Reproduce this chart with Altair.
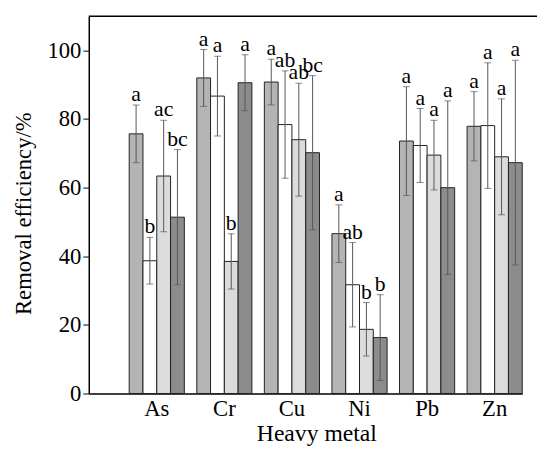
import altair as alt
import pandas as pd

metals = ["As", "Cr", "Cu", "Ni", "Pb", "Zn"]
series = ["T1", "T2", "T3", "T4"]

means = {
    "T1": [75.7, 92.0, 90.8, 46.6, 73.6, 77.9],
    "T2": [38.7, 86.7, 78.4, 31.7, 72.3, 78.1],
    "T3": [63.4, 38.5, 74.0, 18.7, 69.5, 69.0],
    "T4": [51.4, 90.6, 70.2, 16.3, 60.0, 67.3],
}
sds = {
    "T1": [8.4, 8.3, 6.65, 8.4, 15.85, 10.1],
    "T2": [6.8, 11.6, 15.65, 12.3, 10.8, 18.3],
    "T3": [16.25, 8.05, 16.45, 7.8, 10.15, 16.9],
    "T4": [19.7, 8.15, 22.45, 12.5, 25.3, 29.85],
}
letters = {
    "T1": ["a", "a", "a", "a", "a", "a"],
    "T2": ["b", "a", "ab", "ab", "a", "a"],
    "T3": ["ac", "b", "ab", "b", "a", "a"],
    "T4": ["bc", "a", "bc", "b", "a", "a"],
}
fills = ["#b4b4b4", "#ffffff", "#dcdcdc", "#8c8c8c"]

rows = []
for s in series:
    for i, m in enumerate(metals):
        v = means[s][i]
        e = sds[s][i]
        rows.append({"metal": m, "series": s, "value": v,
                     "lo": v - e, "hi": v + e, "letter": letters[s][i]})
df = pd.DataFrame(rows)

FONT = "Liberation Serif"

x = alt.X("metal:N", sort=metals, title="Heavy metal",
          scale=alt.Scale(paddingInner=0.184, paddingOuter=0.299, align=1),
          axis=alt.Axis(labelAngle=0, ticks=False, labelFontSize=23, titleFontSize=24,
                        labelFont=FONT, titleFont=FONT,
                        labelBaseline="alphabetic", labelPadding=22,
                        domainColor="black",
                        domainWidth=1.5, labelColor="black", titleColor="black",
                        titleFontWeight="normal", titleX=231, titleY=48,
                        titleAlign="center", titleBaseline="alphabetic"))
xo = alt.XOffset("series:N", sort=series, scale=alt.Scale(paddingInner=0, paddingOuter=0))
yscale = alt.Scale(domain=[0, 110], nice=False)

base = alt.Chart(df)

bars = base.mark_bar(stroke="#222222", strokeWidth=1).encode(
    x=x, xOffset=xo,
    y=alt.Y("value:Q", scale=yscale, title="Removal efficiency/%",
            axis=alt.Axis(values=[0, 20, 40, 60, 80, 100], grid=False, tickSize=6,
                          labelFont=FONT, titleFont=FONT,
                          labelFontSize=23, titleFontSize=23, labelColor="black",
                          titleColor="black", domainColor="black", tickColor="black",
                          domainWidth=1.5, titleFontWeight="normal", labelPadding=2,
                          titleX=-66, titleY=200, titleAlign="center",
                          titleBaseline="middle")),
    fill=alt.Fill("series:N", sort=series,
                  scale=alt.Scale(domain=series, range=fills), legend=None),
)

err = base.mark_rule(color="#555555", strokeWidth=1).encode(
    x=x, xOffset=xo, y=alt.Y("lo:Q", scale=yscale), y2="hi:Q")

cap_hi = base.mark_tick(color="#555555", thickness=1, size=7, orient="horizontal").encode(
    x=x, xOffset=xo, y=alt.Y("hi:Q", scale=yscale))
cap_lo = base.mark_tick(color="#555555", thickness=1, size=7, orient="horizontal").encode(
    x=x, xOffset=xo, y=alt.Y("lo:Q", scale=yscale))

text = base.mark_text(font=FONT, fontSize=22, baseline="bottom", dy=1, color="black").encode(
    x=x, xOffset=xo, y=alt.Y("hi:Q", scale=yscale), text="letter:N")

topline = alt.Chart(pd.DataFrame({"k": [0]})).mark_rule(color="black", strokeWidth=1.5).encode(
    x=alt.value(0), x2=alt.value(455), y=alt.value(0))

chart = alt.layer(bars, err, cap_hi, cap_lo, text, topline).properties(
    width=440, height=383,
    padding={"left": 82, "top": 5, "right": 16, "bottom": 50},
    autosize=alt.AutoSizeParams(type="none"),
).configure(
    font=FONT,
).configure_view(stroke=None)

chart.save("out.html", embed_options={"renderer": "svg", "actions": False})
